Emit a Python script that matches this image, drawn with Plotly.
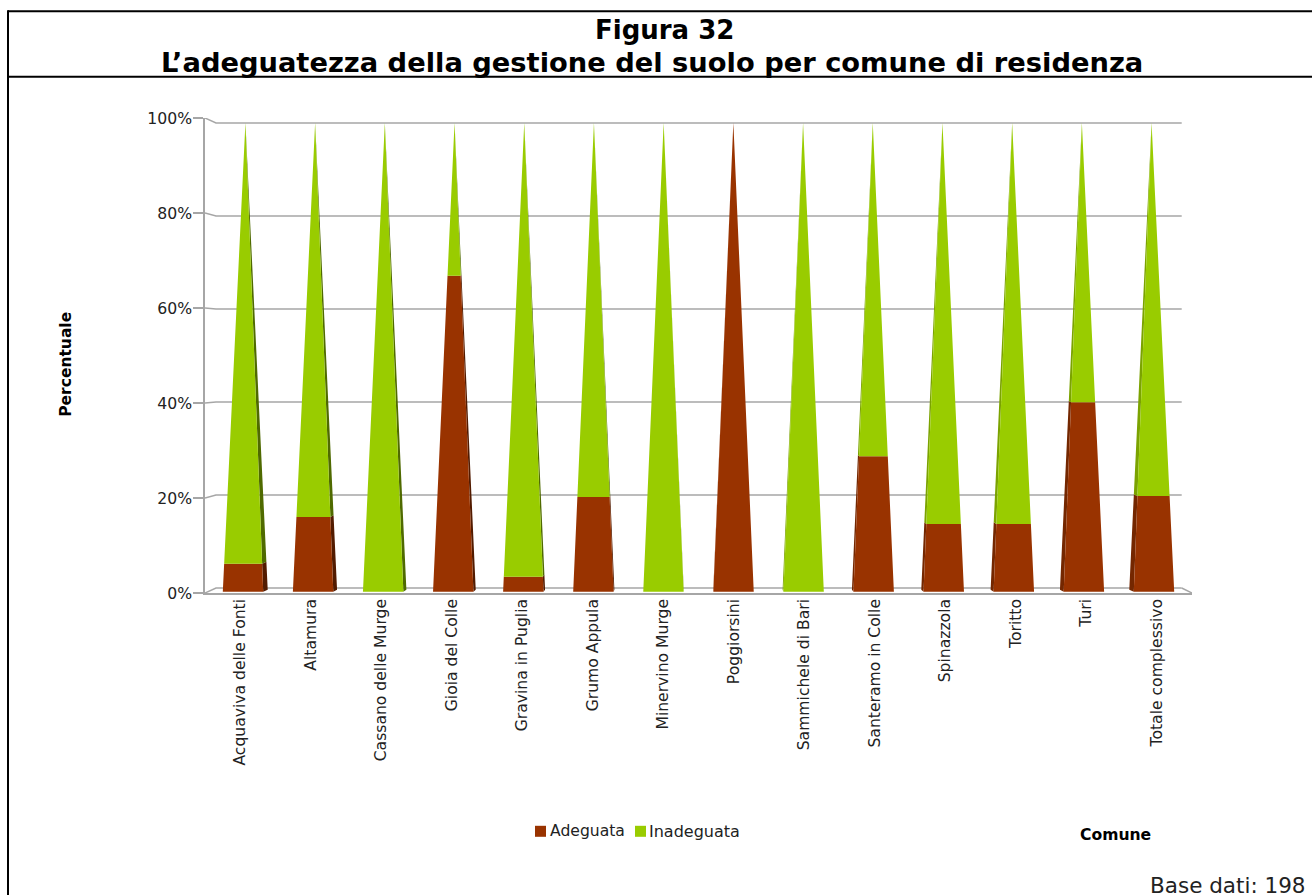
import plotly.graph_objects as go

comuni = ["Acquaviva delle Fonti", "Altamura", "Cassano delle Murge", "Gioia del Colle",
          "Gravina in Puglia", "Grumo Appula", "Minervino Murge", "Poggiorsini",
          "Sammichele di Bari", "Santeramo in Colle", "Spinazzola", "Toritto", "Turi",
          "Totale complessivo"]
adeguata = [5.9, 15.8, 0, 66.7, 3.2, 20.0, 0, 100.0, 0, 28.6, 14.3, 14.3, 40.0, 20.2]
inadeguata = [94.1, 84.2, 100.0, 33.3, 96.8, 80.0, 100.0, 0, 100.0, 71.4, 85.7, 85.7, 60.0, 79.8]
y_ticks = [0, 20, 40, 60, 80, 100]
y_labels = ["0%", "20%", "40%", "60%", "80%", "100%"]

BROWN, GREEN = "#993300", "#99cc00"
BROWN_R, GREEN_R = "#521b00", "#4f6a00"
BROWN_L, GREEN_L = "#742700", "#7ba300"
GRID = "#a6a6a6"
W, H = 1312, 895
PX_L, PX_R, PX_T, PX_B = 205, 1192, 117.7, 592.7
CAT_PX = (PX_R - PX_L) / 14
MID = (len(comuni) - 1) / 2

F_FRONT, F_DEPTH, F_APEX = 0.994, 0.9835, 0.9887
HW_FRONT, HW_DEPTH = 20.2 / CAT_PX, 19.9 / CAT_PX
APEX_V, DEPTH_V = 99.0, 0.7


def pos(i, f):
    return MID + (i - MID) * f


def lerp_edge(x0, y0, x1, y1, t):
    return x0 + (x1 - x0) * t, y0 + (y1 - y0) * t


def segment(corner_a, corner_b, apex, v0, v1):
    """Slice of a triangular pyramid face between two percentages."""
    t0, t1 = min(v0 / APEX_V, 1), min(v1 / APEX_V, 1)
    return [lerp_edge(*corner_a, *apex, t0), lerp_edge(*corner_b, *apex, t0),
            lerp_edge(*corner_b, *apex, t1), lerp_edge(*corner_a, *apex, t1)]


def add_poly(store, pts):
    store[0].extend([p[0] for p in pts] + [pts[0][0], None])
    store[1].extend([p[1] for p in pts] + [pts[0][1], None])


front_a, front_i = ([], []), ([], [])
right_a, right_i = ([], []), ([], [])
left_a, left_i = ([], []), ([], [])

for i in range(len(comuni)):
    a, b = adeguata[i], inadeguata[i]
    cf, cd, ca = pos(i, F_FRONT), pos(i, F_DEPTH), pos(i, F_APEX)
    apex = (ca, APEX_V)
    fl, fr = (cf - HW_FRONT, 0.25), (cf + HW_FRONT, 0.25)
    dl, dr = (cd - HW_DEPTH, DEPTH_V), (cd + HW_DEPTH, DEPTH_V)
    for v0, v1, fr_store, r_store, l_store in (
        (0, a, front_a, right_a, left_a),
        (a, a + b, front_i, right_i, left_i),
    ):
        if v1 <= v0:
            continue
        if dr[0] > fr[0]:
            add_poly(r_store, segment(fr, dr, apex, v0, v1))
        if dl[0] < fl[0]:
            add_poly(l_store, segment(fl, dl, apex, v0, v1))
        add_poly(fr_store, segment(fl, fr, apex, v0, v1))

# back wall and floor of the 3D frame
y_unit = (PX_B - PX_T) / 100
back_lo, back_hi = 5 / y_unit, 100 - 5 / y_unit
back_x0, back_x1 = -0.5 + 11 / CAT_PX, 13.5 - 10.3 / CAT_PX
gx, gy = [], []
for t in y_ticks:
    yb = back_lo + (back_hi - back_lo) * t / 100
    gx += [-0.5, back_x0, back_x1, None]
    gy += [t, yb, yb, None]
gx += [back_x1, 13.5, None]
gy += [back_lo, 0, None]

fig = go.Figure()
fig.add_trace(go.Scatter(x=gx, y=gy, mode="lines", line=dict(color=GRID, width=1.5),
                         hoverinfo="skip", showlegend=False, name="griglia"))
for store, col, name in ((right_a, BROWN_R, "Adeguata lato"), (right_i, GREEN_R, "Inadeguata lato"),
                         (left_a, BROWN_L, "Adeguata lato sx"), (left_i, GREEN_L, "Inadeguata lato sx"),
                         (front_a, BROWN, "Adeguata"), (front_i, GREEN, "Inadeguata")):
    fig.add_trace(go.Scatter(x=store[0], y=store[1], mode="lines", fill="toself", fillcolor=col,
                             line=dict(width=0, color=col), name=name, showlegend=False,
                             hoverinfo="skip"))

FONT = "DejaVu Sans, Verdana, sans-serif"
pw, ph = PX_R - PX_L, PX_B - PX_T


def xp(v):
    return (v - PX_L) / pw


def yp(v):
    return (PX_B - v) / ph


notes = [
    dict(text="<b>Figura 32</b>", x=664.5, y=30, size=26),
    dict(text="<b>L’adeguatezza della gestione del suolo per comune di residenza</b>", x=652, y=62.5, size=27.3),
    dict(text="<b>Percentuale</b>", x=66, y=364.5, size=15.5, angle=-90),
    dict(text="<b>Comune</b>", x=1115.5, y=834.5, size=15.6),
    dict(text="Adeguata", x=587.5, y=831, size=15.6),
    dict(text="Inadeguata", x=694.5, y=831, size=16),
    dict(text="Base dati: 198", x=1228, y=885.5, size=21.5),
]
annots = [dict(text=n["text"], x=xp(n["x"]), y=yp(n["y"]), xref="paper", yref="paper",
               xanchor="center", yanchor="middle", showarrow=False, textangle=n.get("angle", 0),
               font=dict(family=FONT, size=n["size"], color="#000000" if "<b>" in n["text"] else "#222222"))
          for n in notes]

line = dict(color="#000000", width=2)
shapes = [
    dict(type="line", xref="paper", yref="paper", x0=xp(8), x1=xp(W), y0=yp(11), y1=yp(11), line=line),
    dict(type="line", xref="paper", yref="paper", x0=xp(8), x1=xp(W), y0=yp(76.5), y1=yp(76.5), line=line),
    dict(type="line", xref="paper", yref="paper", x0=xp(8), x1=xp(8), y0=yp(10), y1=yp(H), line=line),
    dict(type="rect", xref="paper", yref="paper", x0=xp(535), x1=xp(546), y0=yp(825.5), y1=yp(836.5),
         fillcolor=BROWN, line=dict(width=0)),
    dict(type="rect", xref="paper", yref="paper", x0=xp(635), x1=xp(646), y0=yp(825.5), y1=yp(836.5),
         fillcolor=GREEN, line=dict(width=0)),
]

fig.update_layout(
    width=W, height=H, autosize=False, showlegend=False,
    paper_bgcolor="#ffffff", plot_bgcolor="#ffffff",
    margin=dict(l=PX_L, r=W - PX_R, t=PX_T, b=H - PX_B, pad=0),
    font=dict(family=FONT, size=15.6, color="#222222"),
    xaxis=dict(range=[-0.5, 13.5], tickmode="array", tickvals=list(range(len(comuni))), ticktext=comuni,
               tickangle=-90, showgrid=False, zeroline=False, showline=True, linecolor=GRID, linewidth=1.5,
               ticks="", fixedrange=True, ticklabelstandoff=-2,
               tickfont=dict(size=15.6, family=FONT, color="#222222")),
    yaxis=dict(range=[0, 100], tickmode="array", tickvals=y_ticks, ticktext=y_labels,
               showgrid=False, zeroline=False, showline=True, linecolor=GRID, linewidth=1.5,
               ticks="outside", ticklen=10, tickwidth=1.5, tickcolor=GRID, fixedrange=True,
               ticklabelstandoff=-2, tickfont=dict(size=15.7, family=FONT, color="#222222")),
    annotations=annots, shapes=shapes,
)

fig.write_html("out.html", config={"displayModeBar": False},
               post_script="document.body.style.margin='0';document.body.style.overflow='hidden';")
